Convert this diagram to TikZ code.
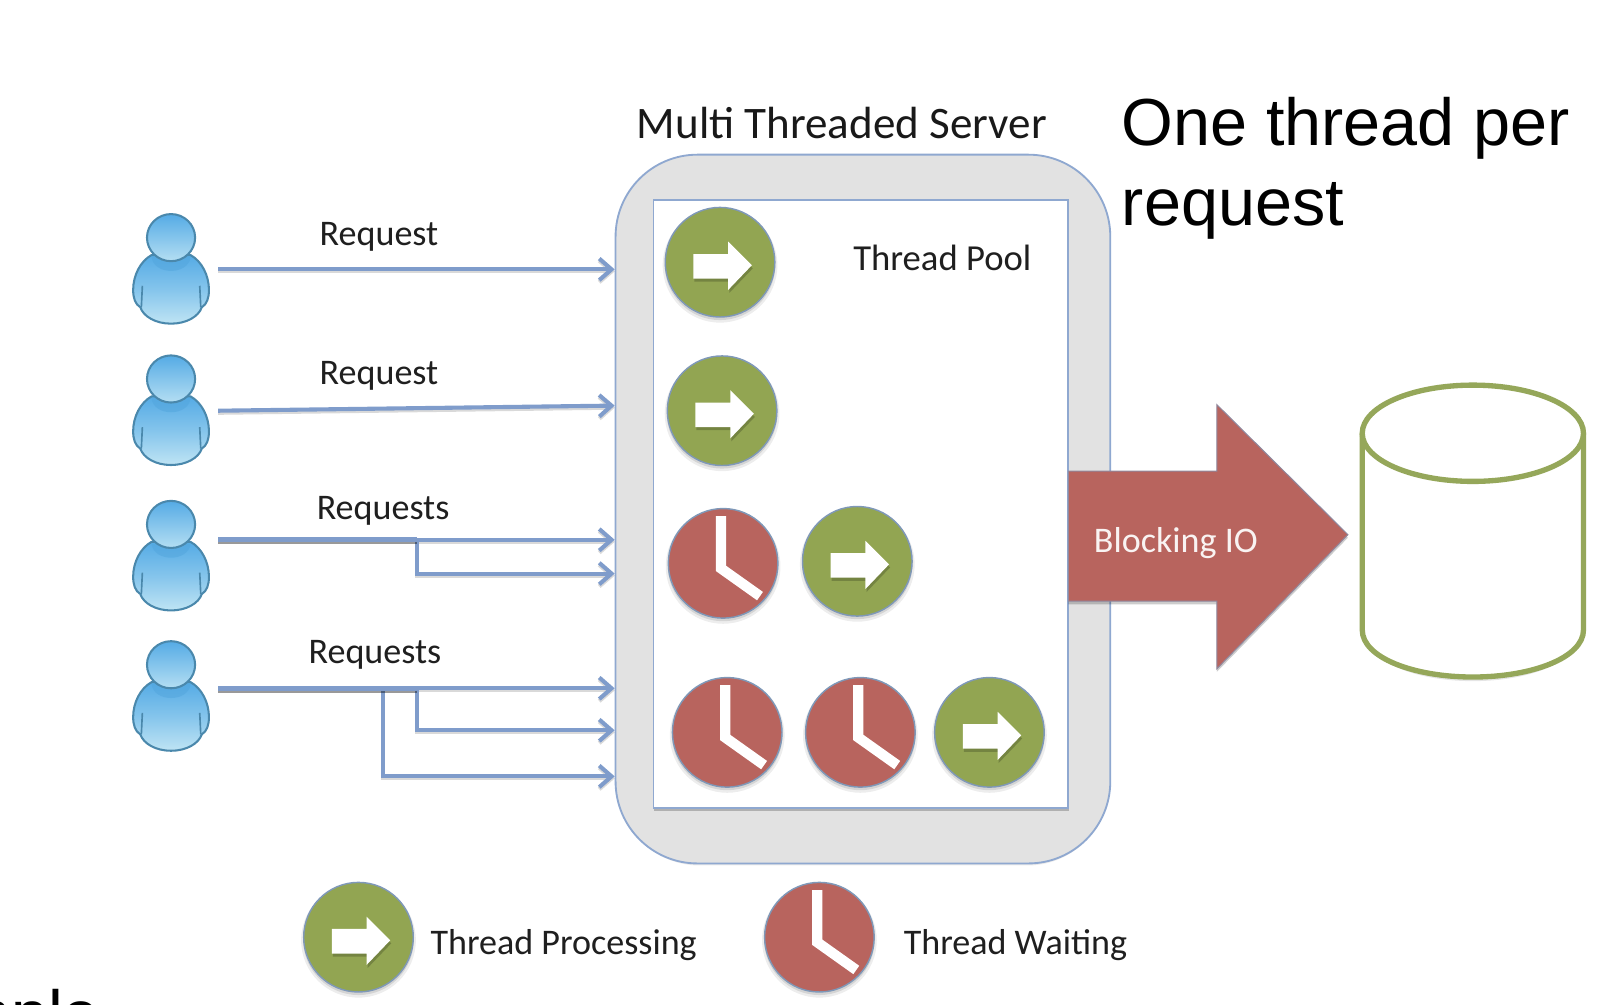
\documentclass[tikz,border=0pt]{standalone}
\usepackage{fontspec}
\setmainfont{Carlito}
\newfontfamily\arialf{Liberation Sans}
\usetikzlibrary{arrows.meta,calc,shadings}
\definecolor{lnblue}{HTML}{7F9CCB}
\definecolor{frameblue}{HTML}{8FA8D0}
\definecolor{srvgray}{HTML}{E2E2E2}
\definecolor{thrgreen}{HTML}{92A552}
\definecolor{thrred}{HTML}{B8645E}
\definecolor{cylgreen}{HTML}{95A75A}
\definecolor{edgeblue}{HTML}{7F98B8}
\definecolor{persedge}{HTML}{4A88AC}
\definecolor{perstop}{HTML}{55ABE5}
\definecolor{persbot}{HTML}{BFE4F4}
\tikzset{
  x=0.5pt,y=-0.5pt,
  conn/.style={draw=lnblue,line width=2pt,
    preaction={draw=black,opacity=.15,line width=2pt,transform canvas={yshift=-1pt}}},
  tip/.style={-{Straight Barb[length=6pt,width=10.5pt,line width=2pt]}},
  trunk/.style={draw=lnblue,line width=2.6pt,
    preaction={draw=black,opacity=.4,line width=2.6pt,transform canvas={yshift=-1pt}}},
  lab/.style={font=\fontsize{17.6pt}{20pt}\selectfont,text=black!88,inner sep=0pt},
  thr/.style={circle,minimum size=53.5pt,inner sep=0pt,draw=edgeblue,line width=.7pt},
  pics/person/.style={code={
    \draw[persedge,line width=1pt,top color=perstop,bottom color=persbot,middle color=perstop!55!persbot]
      (-19,40) .. controls (-30,46) and (-37,60) .. (-37,74)
      .. controls (-37,82) and (-35,88) .. (-30,91)
      .. controls (-27,100) and (-15,107) .. (0,107)
      .. controls (15,107) and (27,100) .. (30,91)
      .. controls (35,88) and (37,82) .. (37,74)
      .. controls (37,60) and (30,46) .. (19,40) -- cycle;
    \fill[perstop!85!persedge,opacity=.55] (-19,42) .. controls (-17,60) and (17,60) .. (19,42) -- cycle;
    \draw[persedge,line width=.8pt] (-28,70) -- (-29,91) (28,70) -- (29,91);
    \draw[persedge,line width=1pt,top color=perstop,bottom color=persbot!90!perstop]
      (0,23) ellipse [x radius=23.5,y radius=23];
  }},
  pics/greenthr/.style={code={
    \fill[black,opacity=.07] (0,3) circle [radius=56];
    \fill[black,opacity=.1] (0,2.5) circle [radius=54];
    \node[thr,fill=thrgreen] (-c) at (0,0) {};
    \fill[black,opacity=.2]
      (-25,-5) -- (9,-5) -- (9,-16) -- (32,6) -- (9,30) -- (9,19) -- (-25,19) -- cycle;
    \fill[white]
      (-26,-8) -- (8,-8) -- (8,-20) -- (31,3) -- (8,27) -- (8,16) -- (-26,16) -- cycle;
  }},
  pics/redthr/.style={code={
    \fill[black,opacity=.07] (0,3) circle [radius=56];
    \fill[black,opacity=.1] (0,2.5) circle [radius=54];
    \node[thr,fill=thrred] (-c) at (0,0) {};
    \draw[white,line width=5pt,line join=miter] (-2,-46) -- (-2,5) -- (36,32);
  }},
}
\begin{document}
\begin{tikzpicture}
\useasboundingbox (0,0) rectangle (1568,980.3);
\clip (0,0) rectangle (1568,980.3);
\fill[white] (0,0) rectangle (1568,980.3);

% server
\fill[black,opacity=.08,rounded corners=40pt] (603,155) rectangle (1083,845);
\node[draw=frameblue,fill=srvgray,line width=.9pt,rounded corners=40pt,
  minimum width=241.5pt,minimum height=346pt,inner sep=0pt] (server) at (842.5,497) {};
\fill[black,opacity=.22] (639,198) rectangle (1044,792);
\node[draw=frameblue,fill=white,line width=.9pt,
  minimum width=202.5pt,minimum height=297pt,inner sep=0pt] (pool) at (840.5,492) {};
\node[font=\fontsize{22pt}{24pt}\selectfont,text=black!90,inner sep=0pt] (title) at (822,120) {Multi Threaded Server};
\node[lab,font=\fontsize{17.9pt}{20pt}\selectfont] (poollab) at (920,252) {Thread Pool};

% heading
\node[font=\arialf\fontsize{32.5pt}{39pt}\selectfont,anchor=base west,inner sep=0pt] (head) at (1095,142) {One thread per};
\node[font=\arialf\fontsize{32.5pt}{39pt}\selectfont,anchor=base west,inner sep=0pt] (head2) at (1095,220) {request};
\node[font=\arialf\fontsize{32.5pt}{39pt}\selectfont,anchor=base east,inner sep=0pt] (cut) at (98,1013) {mple};

% people
\pic (p1) at (167,209) {person};
\pic (p2) at (167,347) {person};
\pic (p3) at (167,489) {person};
\pic (p4) at (167,626) {person};

% connector ends
\coordinate (a1) at (213,263);
\coordinate (a2) at (213,401);
\coordinate (a3) at (213,527);
\coordinate (a4) at (213,672);
\coordinate (b2) at (server.west |- 0,396);
\coordinate (j3) at (407,527);
\coordinate (j4) at (407,672);
\coordinate (k4) at (374,672);

\draw[conn,tip] (a1) -- (a1 -| server.west);
\draw[conn,tip] (a2) -- (b2);
\draw[conn,tip] (j3) -- (j3 -| server.west);
\draw[conn,tip] (j3) |- (server.west |- 0,560);
\draw[trunk] (a3) -- (j3);
\draw[conn,tip] (j4) -- (j4 -| server.west);
\draw[conn,tip] (j4) |- (server.west |- 0,713);
\draw[conn,tip] (k4) |- (server.west |- 0,758);
\draw[trunk] (a4) -- (j4);

\node[lab] (l1) at (370,231) {Request};
\node[lab] (l2) at (370,367) {Request};
\node[lab] (l3) at (374,499) {Requests};
\node[lab] (l4) at (366,639) {Requests};

% threads
\pic (g1) at (703,256) {greenthr};
\pic (g2) at (705,401) {greenthr};
\pic (r1) at (706,550) {redthr};
\pic (g3) at (837,548) {greenthr};
\pic (r2) at (710,715) {redthr};
\pic (r3) at (840,715) {redthr};
\pic (g4) at (966,715) {greenthr};

% blocking IO arrow
\fill[black,opacity=.2] (1043,462) -- (1188,462) -- (1188,398) -- (1316,525) -- (1188,656) -- (1188,590) -- (1043,590) -- cycle;
\draw[draw=edgeblue!70!thrred,fill=thrred,line width=.5pt,line join=miter]
  (1043,460) -- (1188,460) -- (1188,395) -- (1316,522) -- (1188,653) -- (1188,587) -- (1043,587) -- cycle;
\node[lab,text=white!92!thrred] (io) at (1148,530) {Blocking IO};

% storage
\fill[black,opacity=.1] (1332,615) .. controls (1332,645) and (1380,665) .. (1438,665)
  .. controls (1496,665) and (1544,645) .. (1544,615) -- cycle;
\draw[cylgreen,fill=white,line width=2.6pt]
  (1330,423) -- (1330,615) .. controls (1330,642) and (1380,661) .. (1438,661)
  .. controls (1496,661) and (1546,642) .. (1546,615) -- (1546,423);
\draw[cylgreen,fill=white,line width=2.6pt] (1438,423) ellipse [x radius=108,y radius=47];

% legend
\pic (lg) at (350,915) {greenthr};
\pic (lr) at (800,915) {redthr};
\node[lab,anchor=west] (t1) at (420,923) {Thread Processing};
\node[lab,anchor=west] (t2) at (882,923) {Thread Waiting};
\end{tikzpicture}
\end{document}
